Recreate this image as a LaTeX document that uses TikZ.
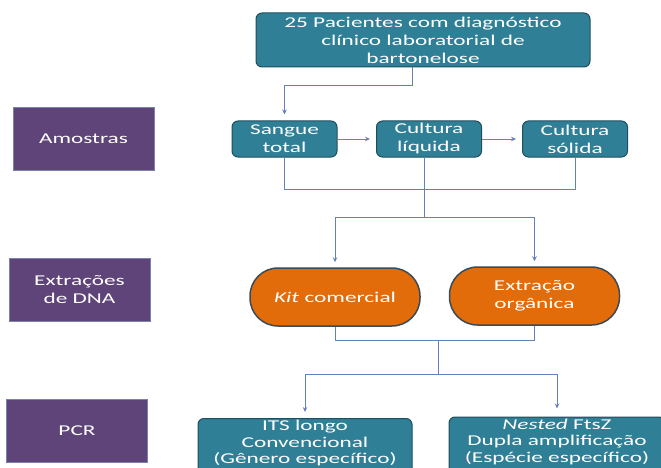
\documentclass[tikz,border=0pt]{standalone}
\usepackage{fontspec}
\setmainfont{Carlito}[FakeStretch=1.55]
\usetikzlibrary{arrows.meta}
\definecolor{tealbox}{RGB}{47,127,151}
\definecolor{tealedge}{RGB}{30,79,94}
\definecolor{stagebg}{RGB}{94,68,120}
\definecolor{stageedge}{RGB}{120,130,170}
\definecolor{orng}{RGB}{226,107,10}
\definecolor{orngedge}{RGB}{60,74,85}
\definecolor{conn}{RGB}{100,130,185}

\begin{document}
\begin{tikzpicture}[x=1pt, y=-1pt, font=\fontsize{15}{18}\selectfont,
  stagebox/.style={fill=stagebg, draw=stageedge, line width=0.6pt, text=white,
    minimum width=141, minimum height=63, inner sep=0, align=center},
  tealnode/.style={fill=tealbox, draw=tealedge, line width=1pt, rounded corners=6,
    text=white, minimum width=105, minimum height=36, inner sep=0, align=center},
  ovalnode/.style={fill=orng, draw=orngedge, line width=1.5pt, rounded corners=28,
    text=white, minimum width=170, minimum height=58, inner sep=0, align=center},
  pcrnode/.style={tealnode, anchor=north, font=\fontsize{15}{16.5}\selectfont,
    minimum height=0, inner ysep=2pt, text depth=12pt},
  link/.style={draw=conn, line width=0.9pt},
  arr/.style={link, -{Stealth[length=5pt,width=4.5pt]}, shorten >=6pt}]
  \useasboundingbox (0,0) rectangle (661,468);
  \clip (0,0) rectangle (661,468);
  % stage labels
  \node[stagebox] (amostras) at (83.5,138.5) {Amostras};
  \node[stagebox] (extracoes) at (79.5,289.5) {Extrações\\de DNA};
  \node[stagebox] (pcr) at (77,430.5) {PCR};
  % patients
  \node[tealnode, minimum width=334, minimum height=54] (pacientes) at (423,40)
    {25 Pacientes com diagnóstico\\clínico laboratorial de\\bartonelose};
  % samples
  \node[tealnode] (sangue) at (284.5,139) {Sangue\\total};
  \node[tealnode] (liquida) at (429,139) {Cultura\\líquida};
  \node[tealnode] (solida) at (575,139) {Cultura\\sólida};
  % DNA extraction
  \node[ovalnode] (kit) at (335,297) {\textit{Kit} comercial};
  \node[ovalnode] (organica) at (534.5,296) {Extração\\orgânica};
  % PCR
  \node[pcrnode, minimum width=214] (its) at (305,418)
    {ITS longo\\Convencional\\(Gênero específico)};
  \node[pcrnode, minimum width=216] (nested) at (557,416.5)
    {\textit{Nested} FtsZ\\Dupla amplificação\\(Espécie específico)};
  % connectors
  \draw[arr] ([xshift=-11]pacientes.south) -- ++(0,18) -| (sangue.north);
  \draw[arr] (sangue) -- (liquida);
  \draw[arr] (liquida) -- (solida);
  \draw[link] (sangue.south) -- ++(0,32) -| (solida.south);
  \draw[link] ([xshift=-5]liquida.south) -- ++(0,60) coordinate (split1);
  \draw[arr, shorten >=5pt] (split1) -| (kit.north);
  \draw[arr, shorten >=5pt] (split1) -| (organica.north);
  \draw[link] (kit.south) -- ++(0,14) -| (organica.south);
  \coordinate (split2) at (438,340);
  \draw[link] (split2) -- ++(0,34) coordinate (split3);
  \draw[arr] (split3) -| (its.north);
  \draw[arr, shorten >=8pt] (split3) -| (nested.north);
\end{tikzpicture}
\end{document}
